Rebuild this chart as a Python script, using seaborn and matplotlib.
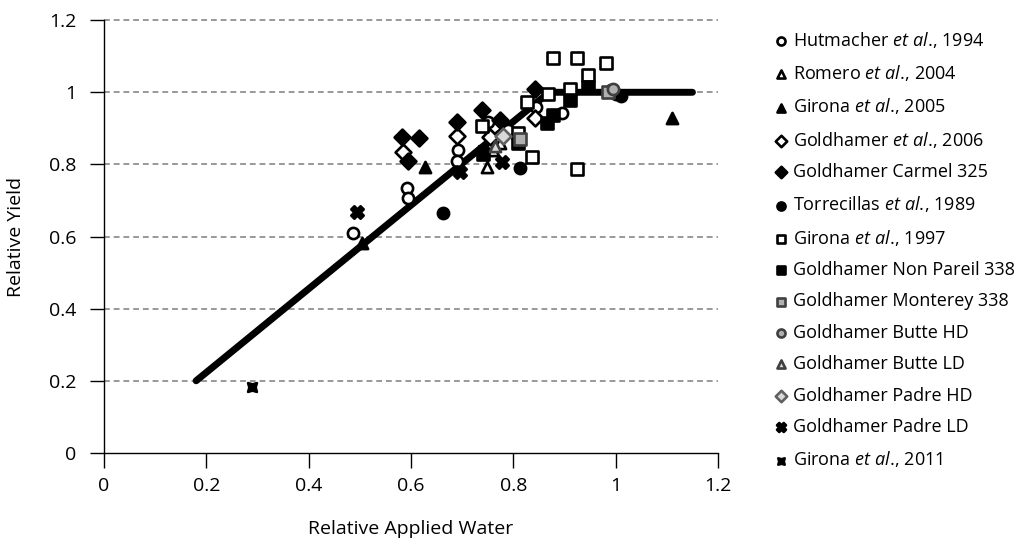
import matplotlib
matplotlib.use("Agg")
import matplotlib.pyplot as plt
import seaborn as sns

# fitted yield response line
line_x = [0.18, 0.87, 1.15]
line_y = [0.20, 1.00, 1.00]

# measured points, one pair of lists per study
hutmacher_x = [0.487, 0.592, 0.594, 0.691, 0.690, 0.750, 0.789, 0.896, 0.845]
hutmacher_y = [0.609, 0.734, 0.706, 0.839, 0.809, 0.917, 0.895, 0.942, 0.960]
romero_x = [0.748, 0.773, 0.760]
romero_y = [0.793, 0.858, 0.840]
girona05_x = [0.627, 1.111, 0.504]
girona05_y = [0.792, 0.928, 0.582]
gold06_x = [0.584, 0.689, 0.754, 0.842]
gold06_y = [0.834, 0.880, 0.876, 0.928]
carmel_x = [0.582, 0.615, 0.594, 0.689, 0.738, 0.773, 0.842]
carmel_y = [0.875, 0.874, 0.810, 0.917, 0.950, 0.922, 1.008]
torre_x = [0.662, 0.812, 0.990, 1.000, 1.010]
torre_y = [0.665, 0.789, 1.005, 0.995, 0.990]
girona97_x = [0.738, 0.809, 0.836, 0.826, 0.867, 0.877, 0.924, 0.982, 0.924, 0.910, 0.945]
girona97_y = [0.906, 0.886, 0.820, 0.973, 0.994, 1.094, 1.094, 1.080, 0.787, 1.010, 1.047]
nonpareil_x = [0.740, 0.809, 0.865, 0.877, 0.910, 0.945]
nonpareil_y = [0.830, 0.858, 0.914, 0.936, 0.978, 1.014]
monterey_x = [0.812, 0.985]
monterey_y = [0.870, 1.000]
butte_hd_x = [0.995]
butte_hd_y = [1.010]
butte_ld_x = [0.765]
butte_ld_y = [0.850]
padre_hd_x = [0.780]
padre_hd_y = [0.880]
padre_ld_x = [0.494, 0.695, 0.777]
padre_ld_y = [0.668, 0.779, 0.806]
girona11_x = [0.289, 0.740]
girona11_y = [0.183, 0.840]

tick_vals = [0, 0.2, 0.4, 0.6, 0.8, 1.0, 1.2]
tick_text = ["0", "0.2", "0.4", "0.6", "0.8", "1", "1.2"]

ETAL = r"$\it{et\ al.}\!$"

series = [
    ("Hutmacher " + ETAL + ", 1994", hutmacher_x, hutmacher_y, "o", "white", "black"),
    ("Romero " + ETAL + ", 2004", romero_x, romero_y, "^", "white", "black"),
    ("Girona " + ETAL + ", 2005", girona05_x, girona05_y, "^", "black", "black"),
    ("Goldhamer " + ETAL + ", 2006", gold06_x, gold06_y, "D", "white", "black"),
    ("Goldhamer Carmel 325", carmel_x, carmel_y, "D", "black", "black"),
    ("Torrecillas " + ETAL + ", 1989", torre_x, torre_y, "o", "black", "black"),
    ("Girona " + ETAL + ", 1997", girona97_x, girona97_y, "s", "white", "black"),
    ("Goldhamer Non Pareil 338", nonpareil_x, nonpareil_y, "s", "black", "black"),
    ("Goldhamer Monterey 338", monterey_x, monterey_y, "s", "#b0b0b0", "#404040"),
    ("Goldhamer Butte HD", butte_hd_x, butte_hd_y, "o", "#b0b0b0", "#404040"),
    ("Goldhamer Butte LD", butte_ld_x, butte_ld_y, "^", "#d8d8d8", "#404040"),
    ("Goldhamer Padre HD", padre_hd_x, padre_hd_y, "D", "#d8d8d8", "#606060"),
    ("Goldhamer Padre LD", padre_ld_x, padre_ld_y, "X", "black", "black"),
    ("Girona " + ETAL + ", 2011", girona11_x, girona11_y, (4, 1, 45), "black", "black"),
]

sns.set_style("white")
plt.rcParams["font.family"] = ["Open Sans", "DejaVu Sans"]
plt.rcParams["mathtext.fontset"] = "custom"
plt.rcParams["mathtext.rm"] = "Open Sans"
plt.rcParams["mathtext.it"] = "Open Sans:italic"
plt.rcParams["text.color"] = "black"
plt.rcParams["axes.labelcolor"] = "black"
plt.rcParams["xtick.color"] = "black"
plt.rcParams["ytick.color"] = "black"

fig = plt.figure(figsize=(10.24, 5.45), dpi=100)
ax = fig.add_axes([0.1016, 0.169, 0.5996, 0.794])

for yv in tick_vals[1:]:
    ax.axhline(yv, color="#999999", linestyle=(0, (3, 2)), linewidth=1.4, zorder=0, clip_on=False)

sns.lineplot(x=line_x, y=line_y, color="black", linewidth=5, solid_capstyle="round", ax=ax, zorder=2)

for label, xs, ys, mk, fc, ec in series:
    size = 80 if mk in ("X", (4, 1, 45)) else 65
    ax.scatter(xs, ys, marker=mk, s=size, facecolor=fc, edgecolor=ec,
               linewidth=1.9, zorder=3, label=label)

ax.set_xlim(0, 1.2)
ax.set_ylim(0, 1.2)
ax.set_xticks(tick_vals)
ax.set_xticklabels(tick_text)
ax.set_yticks(tick_vals)
ax.set_yticklabels(tick_text)
ax.tick_params(axis="x", direction="out", length=11, width=1, pad=6, labelsize=14, bottom=True)
ax.tick_params(axis="y", direction="out", length=10, width=1, pad=10, labelsize=14, left=True)

sns.despine(ax=ax, top=True, right=True)
for sp in ["left", "bottom"]:
    ax.spines[sp].set_color("black")
    ax.spines[sp].set_linewidth(1)

ax.set_xlabel("Relative Applied Water", fontsize=14, labelpad=18)
ax.set_ylabel("Relative Yield", fontsize=14, labelpad=17)

leg = ax.legend(loc="upper left", bbox_to_anchor=(1.076, 0.995), frameon=False,
                fontsize=13, markerscale=0.72, handletextpad=0.15,
                labelspacing=0.74, handlelength=1.0, borderaxespad=0)

fig.savefig("out.png", dpi=100)
